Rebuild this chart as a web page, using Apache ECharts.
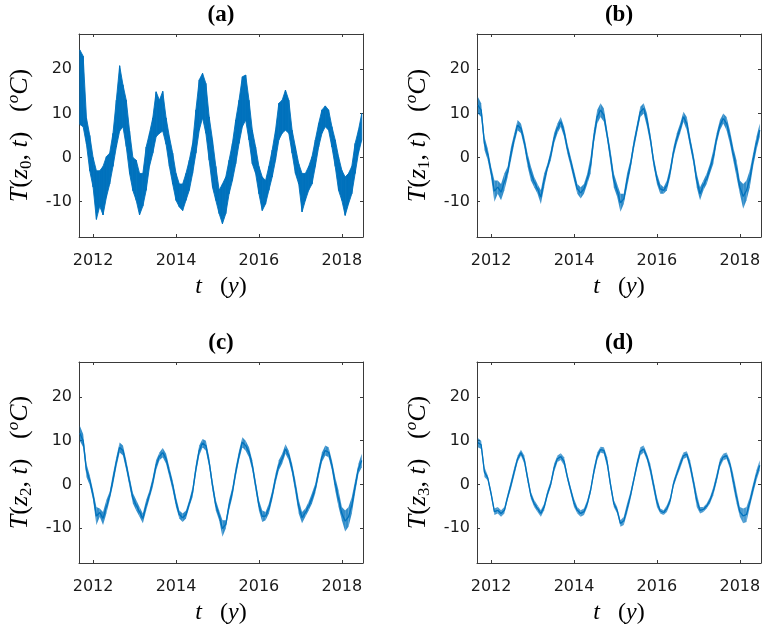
<!DOCTYPE html>
<html><head><meta charset="utf-8">
<script src="https://cdn.jsdelivr.net/npm/echarts@6/dist/echarts.min.js"></script>
<style>html,body{margin:0;padding:0;background:#fff}#c{width:763px;height:630px}</style>
</head><body><div id="c"></div>
<script>
// sampling times (years)
const years = [2011.68,2011.76,2011.84,2011.92,2012.00,2012.08,2012.16,2012.24,2012.32,2012.40,2012.48,2012.56,2012.64,2012.72,2012.80,2012.88,2012.96,2013.04,2013.12,2013.20,2013.28,2013.36,2013.44,2013.52,2013.60,2013.68,2013.76,2013.84,2013.92,2014.00,2014.08,2014.16,2014.24,2014.32,2014.40,2014.48,2014.56,2014.64,2014.72,2014.80,2014.88,2014.96,2015.04,2015.12,2015.20,2015.28,2015.36,2015.44,2015.52,2015.60,2015.68,2015.76,2015.84,2015.92,2016.00,2016.08,2016.16,2016.24,2016.32,2016.40,2016.48,2016.56,2016.64,2016.72,2016.80,2016.88,2016.96,2017.04,2017.12,2017.20,2017.28,2017.36,2017.44,2017.52,2017.60,2017.68,2017.76,2017.84,2017.92,2018.00,2018.08,2018.16,2018.24,2018.32,2018.40,2018.48];

// (a) T(z0,t): upper / lower envelope of the noisy record
const aHi = [24.4,23,9,5,0,-3,-3,-2,0.2,1,5.5,13,20.8,16.5,13,6,0,-0.6,-3.6,-3.6,2.4,5.5,9,14.9,13,15,9,4.7,1,-3.6,-6,-6,-3.6,-0.6,3.2,10.8,17.6,19.1,16.8,9.2,4,-2,-7.4,-6,-4.4,-0.6,3.2,8.5,13,18.3,18.7,13,6.2,2.4,-2,-4.4,-5.2,-2,1.7,6.2,12.3,13,15.3,13,6.2,2.4,-1.4,-3.6,-3.6,-2,0.2,4,7.7,10.8,11.7,10.8,7,4,0.2,-2.9,-4.4,-3.6,-2,3.2,6.2,10];
const aLo = [7.5,7,3,-3,-6.7,-14,-11,-13,-9,-6,-2,2.4,6,7,2.5,-3.6,-7.5,-9.7,-13,-11,-7.4,-2,1,4.7,5.5,6,3,-2,-6,-9.7,-11.2,-12,-9.7,-7.4,-3.6,1,6.2,9,5.5,-0.6,-6.7,-9.7,-12.7,-15,-12.7,-8.2,-5.2,-1.4,3.2,7,8.5,4,-1.4,-3.6,-8.2,-12,-10.5,-7.4,-4.4,-0.6,4,5.5,6.2,5.5,1,-3.6,-6,-12.3,-9.7,-7.4,-6,-2,2.4,5.5,7,6.2,2.4,-2,-7.4,-9.7,-13.1,-10.5,-8.2,-3.6,1,4];

// (b) T(z1,t)
const bHi = [13.8,12.3,4.7,2,-2,-5.2,-5.2,-6,-3.6,-2,2.4,5.5,8.5,7.7,4.7,0.9,-2,-4.4,-6,-7.4,-3.6,-1.4,1.7,5.5,7.7,9.2,7,3.2,0.2,-2.9,-6,-6.7,-6,-3.6,0.2,6.2,10.8,12.3,11.1,6.2,1.7,-3.6,-6,-8.2,-8.2,-3.6,-0.6,3.9,7.7,11.5,12.3,10,5.5,0.2,-3.6,-6,-6.7,-5.2,-2,2.4,5.5,7.7,10.4,9.2,4.7,0.9,-3.6,-6.7,-5.2,-3.6,-1.4,1.7,5.5,8.5,10,9.2,6.2,2.4,-0.6,-5.2,-6,-5.2,-2.9,0.9,4.7,7.7];
const bLo = [10,9.2,1.7,-0.6,-4.4,-10,-8.2,-9.7,-7.4,-4.4,-0.6,3.2,6.2,5.5,2.4,-2,-5.2,-6.7,-8.2,-10.5,-6.7,-3,-0.6,3.2,5.5,7,4.7,0.9,-2,-5.2,-8.2,-9.3,-8.2,-6,-3.6,3.2,7.7,9.2,8.1,3.9,-1.4,-6.7,-8.9,-12.3,-10.5,-6.7,-2.9,1.7,5.5,9.2,10,7,3.2,-2,-6,-8.2,-8.2,-7.4,-4.4,0.2,3.2,5.5,8.1,6.2,2.4,-1.4,-6.7,-9.7,-7.4,-6,-3.6,-1.4,3.2,6.2,7.7,6.2,3.2,-0.6,-4.4,-8.2,-11.6,-9.7,-6.7,-2,1.7,4.7];

// (c) T(z2,t)
const cHi = [13.4,11.5,4.7,2,-1.4,-5.2,-5.5,-6.3,-3.6,-1.7,2.4,6.2,9.6,8.9,5.5,1.7,-2,-3.6,-5.2,-6.7,-3.6,-1.4,1.7,5.5,7.3,8.3,7,3.9,0.9,-2.9,-6,-6.7,-6,-3.6,-0.6,4.7,8.9,10.4,10,6.2,0.9,-3.6,-6,-8.2,-8.2,-3.6,-0.6,3.9,7.7,10.8,10,8.5,5.5,0.9,-3.6,-6,-6.3,-4.4,-1.4,2.4,5.5,7,9.2,7.7,4.7,0.9,-3.6,-6.3,-5.5,-4,-2,0.2,3.9,7.3,8.9,8.5,5.5,1.7,-1.4,-5.2,-6,-5.2,-2.9,0.9,4.7,7];
const cLo = [10,8.5,1.7,-0.2,-3.6,-9.3,-7.4,-9.3,-6.7,-3.6,-0.2,3.9,7.3,6.6,3.2,-0.6,-4.4,-6,-7.4,-8.9,-6,-3.3,-0.6,3.2,5.5,6.2,4.7,1.7,-1.4,-5.2,-7.8,-8.6,-7.8,-5.2,-2.9,2.4,6.6,8.5,7.7,3.9,-1.4,-6,-8.2,-12,-10.1,-6,-2.9,1.7,5.5,8.5,7.7,6.2,3.2,-1.4,-6,-8.6,-8.2,-6.7,-3.6,0.2,3.2,4.7,7,5.5,2.4,-2,-6.7,-8.9,-7.4,-6,-4.4,-2,1.7,5.1,6.6,6.2,3.2,-1.4,-5.2,-8.2,-10.8,-9.7,-6.7,-2,2.4,3.9];

// (d) T(z3,t)
const dHi = [10.6,10,3.9,2,-1.4,-5.5,-5.2,-5.9,-5.2,-2.1,0.9,3.9,6.6,7.9,6.6,2.4,-1.7,-3.6,-4.8,-5.9,-4.4,-1.4,0.9,4.7,6.6,7.1,6.2,2.4,-0.6,-3.3,-5.2,-5.9,-5.5,-3.6,-0.6,3.9,7.3,8.6,8.5,6.2,0.9,-3.6,-5.2,-8.2,-7.4,-4.4,-1.7,1.7,5.5,8.5,8.9,7,4.7,0.9,-2.9,-5.5,-5.9,-4.8,-2.9,0.9,3.2,5.5,7.3,7.6,5.5,1.7,-2.1,-5.2,-5.2,-4.4,-2.9,-0.6,2.4,5.8,7,7.3,5.5,2.4,-1.4,-5.2,-5.5,-5.2,-2.9,0.2,3.2,5.5];
const dLo = [8.5,8.1,1.7,0.9,-2.9,-7,-6.7,-7.4,-6.7,-3.6,-1,2,5.1,6.6,4.7,0.5,-3.3,-5.2,-6.3,-7.4,-5.9,-2.9,-0.6,2.8,5.1,5.6,4.3,0.9,-2.1,-5.2,-6.7,-7.4,-7,-5.2,-2.1,2,5.5,7.3,7,3.9,-1,-5.2,-6.7,-9.7,-9.3,-6.7,-3.6,0.2,3.6,6.6,7.3,5.5,2.4,-1.4,-5.2,-6.7,-7,-6.3,-4.4,-0.6,1.7,3.6,5.8,6.2,3.2,-0.6,-5.2,-6.7,-6.3,-5.5,-4.4,-2.5,0.5,3.9,5.5,5.8,3.6,-0.6,-4.4,-7.4,-8.9,-8.6,-5.2,-2.1,0.9,3.2];

const xTicks = [2012, 2014, 2016, 2018];
const yTicks = [-10, 0, 10, 20];
const panelTitles = ['(a)', '(b)', '(c)', '(d)'];
const depthIndex = ['0', '1', '2', '3'];
const panels = [[aHi, aLo], [bHi, bLo], [cHi, cLo], [dHi, dLo]];

const C = '#0072BD';
const AX = '#3a3a3a';
// band opacity (noise fringe) and core line width per panel
const bandOpacity = [1, 0.8, 0.8, 0.7];
const coreWidth = [0, 1.3, 1.3, 1.3];
const grids = [
  {left: 79, top: 34, width: 284, height: 203},
  {left: 477, top: 34, width: 284, height: 203},
  {left: 79, top: 362, width: 284, height: 201},
  {left: 477, top: 362, width: 284, height: 201}
];

const serif = 'Liberation Serif';
const richX = {
  i: {fontFamily: serif, fontStyle: 'italic', fontSize: 24, lineHeight: 30, color: '#000'},
  r: {fontFamily: serif, fontSize: 24, lineHeight: 30, color: '#000'}
};
const richY = {
  i: {fontFamily: serif, fontStyle: 'italic', fontSize: 26, lineHeight: 30, color: '#000'},
  r: {fontFamily: serif, fontSize: 26, lineHeight: 30, color: '#000'},
  s: {fontFamily: serif, fontSize: 17, lineHeight: 20, verticalAlign: 'bottom', color: '#000'},
  p: {fontFamily: serif, fontStyle: 'italic', fontSize: 17, lineHeight: 17, verticalAlign: 'top', color: '#000'}
};

const xAxes = [], yAxes = [], series = [], graphics = [];
grids.forEach((g, i) => {
  const common = {
    gridIndex: i, type: 'value', splitLine: {show: false},
    axisLine: {show: true, onZero: false, lineStyle: {color: AX, width: 1}},
    axisTick: {show: true, inside: true, length: 3, lineStyle: {color: AX}}
  };
  xAxes.push(Object.assign({}, common, {
    position: 'bottom', min: 2011.66, max: 2018.51,
    axisTick: Object.assign({}, common.axisTick, {customValues: xTicks}),
    axisLabel: {customValues: xTicks, formatter: v => String(v), fontFamily: 'DejaVu Sans', fontSize: 16, color: '#1a1a1a', margin: 16},
    name: '{i|t}{r|   (}{i|y}{r|)}', nameLocation: 'middle', nameGap: 35,
    nameTextStyle: {rich: richX}
  }));
  xAxes.push(Object.assign({}, common, {
    position: 'top', min: 2011.66, max: 2018.51,
    axisTick: Object.assign({}, common.axisTick, {customValues: xTicks}),
    axisLabel: {show: false}
  }));
  yAxes.push(Object.assign({}, common, {
    position: 'left', min: -18, max: 28,
    axisTick: Object.assign({}, common.axisTick, {customValues: yTicks}),
    axisLabel: {customValues: yTicks, formatter: v => String(v), fontFamily: 'DejaVu Sans', fontSize: 16, color: '#1a1a1a', margin: 7},
    name: '{i|T}{r|(}{i|z}{s|' + depthIndex[i] + '}{r|, }{i|t}{r|)   (}{p|o}{i|C}{r|)}',
    nameLocation: 'middle', nameRotate: 90, nameGap: 44,
    nameTextStyle: {rich: richY}
  }));
  yAxes.push(Object.assign({}, common, {
    position: 'right', min: -18, max: 28,
    axisTick: Object.assign({}, common.axisTick, {customValues: yTicks}),
    axisLabel: {show: false}
  }));
  const hi = panels[i][0], lo = panels[i][1];
  const op = bandOpacity[i];
  series.push({
    type: 'custom', xAxisIndex: 2 * i, yAxisIndex: 2 * i,
    data: years.map((t, k) => [t, lo[k], hi[k]]),
    encode: {x: 0, y: [1, 2]},
    silent: true, animation: false,
    renderItem: function (params, api) {
      const k = params.dataIndexInside;
      if (k >= params.dataInsideLength - 1) return null;
      const t0 = api.value(0, k), t1 = api.value(0, k + 1);
      const pts = [
        api.coord([t0, api.value(2, k)]),
        api.coord([t1, api.value(2, k + 1)]),
        api.coord([t1, api.value(1, k + 1)]),
        api.coord([t0, api.value(1, k)])
      ];
      return {type: 'polygon', shape: {points: pts},
        style: op >= 1 ? {fill: C, stroke: C, lineWidth: 0.9} : {fill: C, opacity: op}};
    }
  });
  if (coreWidth[i] > 0) {
    series.push({
      type: 'line', xAxisIndex: 2 * i, yAxisIndex: 2 * i,
      data: years.map((t, k) => [t, (hi[k] + lo[k]) / 2]),
      symbol: 'none', silent: true, animation: false,
      lineStyle: {color: C, width: coreWidth[i]}
    });
  }
  graphics.push({
    type: 'text', x: g.left + g.width / 2, y: g.top - 19,
    style: {text: panelTitles[i], font: 'bold 23px "Liberation Serif"', fill: '#000',
      align: 'center', verticalAlign: 'middle', textAlign: 'center', textVerticalAlign: 'middle'}
  });
});

const chart = echarts.init(document.getElementById('c'), null, {renderer: 'canvas'});
chart.setOption({
  animation: false,
  backgroundColor: '#fff',
  grid: grids.map(g => Object.assign({outerBoundsMode: 'none', containLabel: false}, g)),
  xAxis: xAxes, yAxis: yAxes, series: series, graphic: graphics
});
</script></body></html>
